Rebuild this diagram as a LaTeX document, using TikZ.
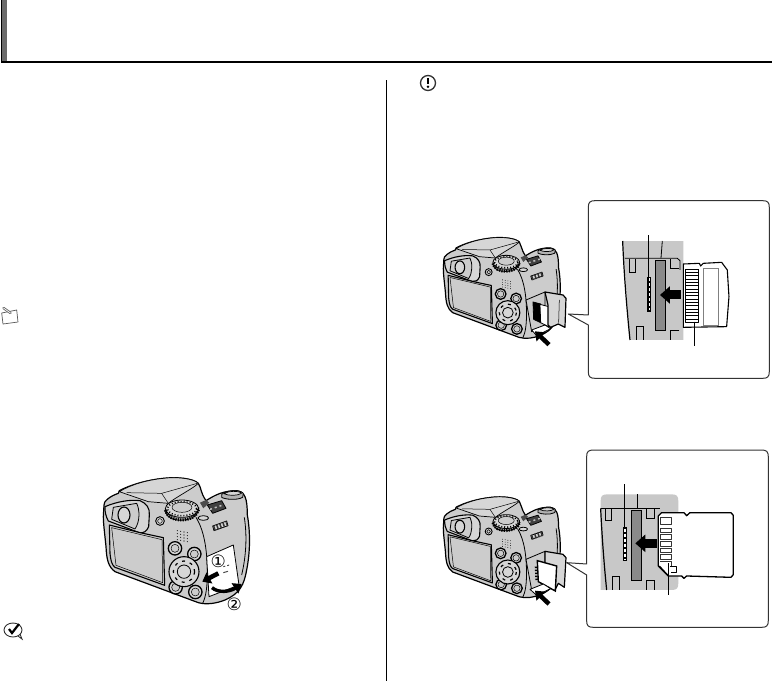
\documentclass[tikz,border=0pt]{standalone}
\usepackage{fontspec}
\newfontfamily\symfont{DejaVu Sans}
\usetikzlibrary{arrows.meta}
\definecolor{camgray}{HTML}{CCCCCC}
\definecolor{camlight}{HTML}{D6D6D6}
\definecolor{panelgray}{HTML}{C8C8C8}
\definecolor{slotgray}{HTML}{8A8A8A}
\tikzset{
  ink/.style={draw=black,line width=0.8pt,line join=round},
  thinink/.style={draw=black,line width=0.5pt,line join=round},
  cambody/.style={draw=black,line width=1.2pt,fill=camgray,line join=round},
  camcap/.style={draw=black,line width=0.7pt,fill=camlight,line join=round},
  ringbtn/.style={draw=black,line width=0.9pt,fill=camlight},
  leader/.style={draw=black,line width=1pt},
  bigarrow/.style={draw=black,line width=4.5pt,-{Triangle[length=8pt,width=12pt]}},
  blockarrow/.style={draw=black,line width=9pt,-{Triangle[length=10pt,width=17pt]}},
  inset/.style={draw=black!80,line width=1pt,fill=white,line join=round},
  slotbox/.style={draw=black,line width=0.9pt,fill=slotgray},
  latchline/.style={draw=black,line width=0.8pt},
  circlednum/.style={inner sep=0pt,font=\symfont\fontsize{17}{17}\selectfont}
}
\newcommand{\drawcamera}{%
  \path[cambody] (42,135) .. controls (40,125) and (60,108) .. (85,100) -- (88,92)
    .. controls (120,75) and (170,60) .. (220,55) .. controls (260,50) and (310,55) .. (325,70)
    .. controls (335,85) and (330,95) .. (348,122) .. controls (375,105) and (400,92) .. (440,92)
    .. controls (465,95) and (472,115) .. (472,165) .. controls (482,220) and (480,280) .. (470,330)
    .. controls (462,375) and (450,400) .. (405,420) .. controls (380,430) and (350,435) .. (325,428)
    -- (75,335) .. controls (55,320) and (50,300) .. (48,260) .. controls (44,220) and (40,190) .. (40,170) -- cycle;
  % hood
  \path[camcap] (88,95) .. controls (120,75) and (170,60) .. (220,55) .. controls (260,50) and (310,55) .. (325,70)
    .. controls (310,85) and (260,110) .. (235,130) -- (175,125) -- cycle;
  \draw[thinink] (110,98) -- (215,100) -- (322,70);
  \draw[thinink] (215,100) -- (235,130);
  \fill[black!70] (330,128) -- (348,120) -- (358,128) -- (340,145) -- cycle;
  % top right dial
  \path[ink,fill=black!30] (395,103) .. controls (410,90) and (450,88) .. (460,100) -- (458,112) .. controls (440,122) and (405,118) .. (395,112) -- cycle;
  \path[camcap] (402,101) .. controls (415,92) and (445,92) .. (456,99) .. controls (445,108) and (415,108) .. (402,101) -- cycle;
  % viewfinder
  \path[camcap,line width=1.1pt] (45,140) .. controls (80,125) and (120,118) .. (150,122) .. controls (170,130) and (180,145) .. (178,165)
    -- (176,200) .. controls (170,215) and (160,220) .. (148,218) -- (55,183) .. controls (48,170) and (44,155) .. (45,140) -- cycle;
  \draw[ink,fill=camgray] (70,142) -- (140,130) .. controls (150,150) and (150,185) .. (135,207) -- (65,178) -- cycle;
  \draw[line width=1.1pt,fill=camlight] (102,165) ellipse (18 and 24);
  % LCD
  \draw[line width=1.1pt,fill=camgray,line join=round] (58,195) -- (150,218) -- (220,233) -- (224,376) -- (75,322) .. controls (65,315) and (62,300) .. (60,280) -- cycle;
  \draw[thinink] (65,203) -- (216,239) -- (218,368) -- (78,316) -- cycle;
  % dial
  \draw[ink,fill=black!35] (226,155) .. controls (232,190) and (318,190) .. (326,150) -- (326,142) -- (226,148) -- cycle;
  \draw[ink,fill=camlight] (276,146) ellipse (50 and 26);
  \draw[line width=3pt,dash pattern=on 1.2pt off 1.2pt] (226,150) .. controls (232,190) and (318,190) .. (326,148);
  \draw[line width=1.6pt,dash pattern=on 1pt off 2pt] (276,146) ellipse (44 and 21);
  \draw[thinink,fill=camgray] (276,142) ellipse (30 and 15);
  % small knob
  \draw[ringbtn] (210,183) circle (13);
  \draw[thinink] (210,183) circle (7);
  % speaker dots
  \foreach \r in {0,1,2,3}{\foreach \c in {0,1,2,3}{
    \fill ({262+10*\c},{212+2*\c+9*\r}) circle (1.6);
  }}
  % wheel and vent
  \draw[ink,fill=camlight] (340,174) ellipse (16 and 7);
  \draw[ink,fill=camlight] (368,198) -- (410,183) -- (414,197) -- (372,212) -- cycle;
  \draw[line width=5pt,dash pattern=on 1.5pt off 1.8pt,black!80] (371,205) -- (411,191);
  \path[ink,fill=black!75] (352,135) -- (395,122) -- (408,145) -- (368,160) -- cycle;
  \draw[black!25,line width=1.5pt,dash pattern=on 2pt off 3pt] (360,148) -- (402,134);
  % grip seam
  \draw[ink] (318,172) .. controls (345,215) and (352,280) .. (352,340) .. controls (352,380) and (348,410) .. (338,430);
  \draw[ink] (463,172) .. controls (472,230) and (468,290) .. (455,345);
  % back buttons
  \foreach \px/\py in {255/265,313/282,257/382,316/396}{
    \draw[ringbtn,line width=1.3pt] (\px,\py) circle (20);
    \draw[thinink,fill=camgray] (\px,\py) circle (12);
  }
  % pad
  \draw[ringbtn,line width=1.1pt] (282,335) circle (45);
  \draw[line width=1.2pt,dash pattern=on 3pt off 5pt] (282,335) circle (32);
  \draw[ink,fill=camlight] (282,335) circle (20);
}
\begin{document}
\begin{tikzpicture}[x=1pt,y=-1pt]
\useasboundingbox (0,0) rectangle (772,681);
\fill[white] (0,0) rectangle (772,681);
% header band
\fill[black!58] (2,0) rectangle (7,62);
\draw[line width=1.2pt] (1.5,0) -- (1.5,62.5);
\draw[line width=1.4pt] (1,62) -- (772,62);
% column rule
\draw[line width=1pt] (386.5,80) -- (386.5,681);
% note icons
\draw[black!65,line width=0.7pt,line join=round] (1.7,313) -- (16.7,310) -- (18,322) -- (3,324) -- cycle;
\draw[black!60,line width=2.4pt,line cap=round] (3.5,308) -- (10.5,313);
\draw[white,line width=0.7pt,line cap=round] (3.5,308) -- (10.5,313);
\begin{scope}[shift={(428,83)}]
  \draw[line width=1.3pt,black!80] (0,0) circle (7.5);
  \fill (-1.3,-5) rectangle (1.3,1);
  \fill (0,3.8) circle (1.4);
\end{scope}
\begin{scope}[shift={(13,630)}]
  \draw[line width=0.9pt,black!80] (0,0) ellipse (9 and 7);
  \draw[line width=0.9pt,black!80] (5,6) -- (9,9) -- (7,4);
  \draw[line width=2.2pt] (-4,-1) -- (-1,3) -- (6,-6);
\end{scope}

% ------ left camera
\begin{scope}[shift={(90,460)},scale=0.3333]
  \drawcamera
  \path[ink,fill=white] (350,290) -- (430,255) -- (447,375) -- (357,410) -- cycle;
  \node[circlednum] (one) at (385,305) {①};
  \draw[bigarrow] (385,340) -- (337,365);
  \draw[line width=3.4pt,-{Triangle[length=8pt,width=12pt]}] (366,383) .. controls (385,400) and (420,395) .. (455,372);
  \node[circlednum] (two) at (433,432) {②};
  \draw[line width=1pt,black!70,dash pattern=on 2pt off 2pt] (400,320) -- (422,314);
  \draw[line width=1pt,black!70] (400,338) -- (414,334);
\end{scope}

% ------ xD inset
\begin{scope}[shift={(430,190)},scale=0.3333]
  \begin{scope}[shift={(8,100)},scale=0.8]\drawcamera\end{scope}
  % frame, card, door
  \path[ink,fill=camgray] (288,330) -- (345,306) -- (345,405) -- (305,425) -- cycle;
  \path[ink,fill=black] (309,336) -- (332,342) -- (332,398) -- (311,388) -- cycle;
  \path[ink,fill=white] (330,343) -- (356,350) -- (356,410) -- (332,398) -- cycle;
  \path[ink,fill=camlight,line width=1.2pt] (345,306) -- (399,315) -- (408,325) -- (405,412) -- (385,402) -- (362,412) -- (354,405) -- (354,345) -- cycle;
  \draw[thinink] (388,330) -- (386,398);
  \path[ink,fill=white] (305,420) -- (345,405) -- (362,416) -- (320,437) -- cycle;
  \draw[bigarrow] (357,464) -- (315,424);
  % callout
  \path[inset] (475,405) -- (475,545) .. controls (475,560) and (480,565) .. (495,565) -- (998,565) .. controls (1013,565) and (1018,560) .. (1018,545)
     -- (1018,52) .. controls (1018,37) and (1013,32) .. (998,32) -- (495,32) .. controls (480,32) and (475,37) .. (475,52) -- (475,375) -- (415,372) -- cycle;
  % slot panel
  \fill[panelgray] (578,153) -- (760,153) -- (760,450) -- (600,450) -- cycle;
  \draw[line width=1.2pt] (578,153) .. controls (582,250) and (590,350) .. (600,450);
  \draw[latchline] (697,153) -- (693,205);
  \draw[latchline] (585,205) -- (742,205) -- (750,212) -- (750,240);
  \draw[latchline] (598,207) -- (598,247) -- (617,247) -- (617,207);
  \draw[latchline] (722,207) -- (722,235) -- (748,235);
  \draw[latchline] (620,450) -- (620,410) -- (640,410) -- (640,450);
  \draw[latchline] (748,422) -- (722,422) -- (722,450);
  \path[slotbox] (677,212) rectangle (705,420);
  \fill (652,260) rectangle (663,365);
  \draw[white,line width=1.2pt,dash pattern=on 3pt off 2pt] (657.5,265) -- (657.5,360);
  \coordinate (xda) at (657,135);
  \coordinate (xdb) at (657,265);
  \draw[leader] (xda) -- (xdb);
  \draw[blockarrow] (752,315) -- (690,315);
  % xD card
  \path[line width=1.1pt,draw=black,fill=white,line join=round] (760,222) -- (808,220) -- (812,228) -- (820,220) -- (875,217) -- (892,240) -- (897,320) -- (890,410) -- (760,412) -- cycle;
  \draw[black!50,line width=0.5pt] (820,235) rectangle (865,405);
  \draw[ink,fill=white] (766,237) rectangle (806,398);
  \foreach \n in {0,...,15}{\draw[line width=0.8pt] (766,{237+\n*10}) -- (806,{237+\n*10});}
  \coordinate (cda) at (793,395);
  \coordinate (cdb) at (793,467);
  \draw[leader] (cda) -- (cdb);
\end{scope}

% ------ SD inset
\begin{scope}[shift={(430,440)},scale=0.3333]
  \begin{scope}[shift={(8,128)},scale=0.8]\drawcamera\end{scope}
  \path[ink,fill=camgray] (288,358) -- (345,334) -- (345,432) -- (305,450) -- cycle;
  \path[ink,fill=camlight,line width=1.2pt] (345,334) -- (399,343) -- (408,353) -- (403,442) -- (385,430) -- (375,450) -- (352,432) -- (345,400) -- cycle;
  \path[line width=1.4pt,draw=black,fill=white] (322,362) -- (380,378) -- (376,453) -- (325,425) -- cycle;
  \draw[line width=2.5pt,dash pattern=on 1.5pt off 1.5pt] (318,380) -- (320,420);
  \path[ink,fill=white] (300,448) -- (340,432) -- (362,446) -- (320,466) -- cycle;
  \draw[bigarrow] (357,492) -- (315,452);
  % callout
  \path[inset] (470,405) -- (470,542) .. controls (470,557) and (475,562) .. (490,562) -- (995,562) .. controls (1010,562) and (1015,557) .. (1015,542)
     -- (1015,50) .. controls (1015,35) and (1010,30) .. (995,30) -- (490,30) .. controls (475,30) and (470,35) .. (470,50) -- (470,372) -- (410,368) -- cycle;
  % slot panel
  \fill[panelgray] (512,450) -- (512,183) .. controls (512,168) and (517,163) .. (532,163) -- (725,163) .. controls (740,163) and (745,168) .. (745,183) -- (745,430) .. controls (745,445) and (740,450) .. (725,450) -- cycle;
  \draw[line width=1.2pt] (512,205) .. controls (516,290) and (522,370) .. (530,450);
  \draw[latchline] (622,163) -- (622,205);
  \draw[latchline] (514,205) -- (690,205);
  \draw[latchline] (525,207) -- (525,240) -- (545,240) -- (545,207);
  \draw[latchline] (650,207) -- (650,235) -- (672,235) -- (672,207);
  \draw[latchline] (548,450) -- (548,410) -- (568,410) -- (568,450);
  \draw[latchline] (648,450) -- (648,422) -- (672,422) -- (672,450);
  \path[slotbox] (604,212) rectangle (633,420);
  \fill (579,260) rectangle (591,362);
  \draw[white,line width=1.2pt,dash pattern=on 3pt off 2pt] (585,266) -- (585,358);
  \coordinate (sda) at (585,132);
  \coordinate (sdb) at (585,265);
  \draw[leader] (sda) -- (sdb);
  \draw[blockarrow] (680,310) -- (616,310);
  % SD card
  \path[line width=1.3pt,draw=black,fill=white,line join=round] (685,228) -- (695,218) -- (762,218) -- (770,227) -- (780,218) -- (903,218) -- (910,226) -- (910,404) -- (903,412) -- (770,408) -- (762,415) -- (755,408) -- (715,408) -- (685,378) -- cycle;
  \foreach \yy/\hh in {232/22,264/14,284/14,304/14,324/14,344/14}{
    \draw[ink,black!80] (691,\yy) rectangle (723,{\yy+\hh});
  }
  \draw[ink,black!80] (691,364) -- (723,364) -- (723,378);
  \draw[thinink] (720,380) -- (738,380) -- (738,398) -- (722,398);
  \draw[line width=1.2pt] (688,378) -- (713,405);
  \coordinate (csa) at (716,370);
  \coordinate (csb) at (716,465);
  \draw[leader] (csa) -- (csb);
\end{scope}
\end{tikzpicture}
\end{document}
